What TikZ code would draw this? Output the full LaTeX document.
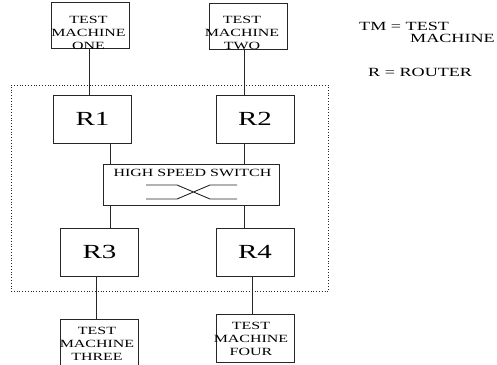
\documentclass[tikz,border=0pt]{standalone}
\usepackage{fontspec}
\setmainfont{Liberation Serif}[FakeStretch=1.45]
\usepackage{tikz}
\newcommand{\widthmachine}{78pt}
\newcommand{\heightmachine}{46pt}
\newcommand{\widthrouter}{78pt}
\newcommand{\heightrouter}{48pt}
\tikzset{
    common/.style={draw=black!85, line width=0.9pt, rectangle, inner sep=0pt},
    machine/.style={common, minimum width=\widthmachine, minimum height=\heightmachine},
    router/.style={common, minimum width=\widthrouter, minimum height=\heightrouter, font=\fontsize{20}{24}\selectfont},
    switchbox/.style={common, minimum width=176pt, minimum height=41pt},
    tmtext/.style={inner sep=0pt, align=center, anchor=north, font=\fontsize{11}{13}\selectfont},
    legendtext/.style={inner sep=0pt, align=left, anchor=north west, font=\fontsize{12.5}{12}\selectfont},
    link/.style={draw=black!85, line width=0.9pt},
    corebox/.style={draw=black!85, dotted, line width=0.8pt, inner sep=0pt}
}

\begin{document}
\begin{tikzpicture}[x=1pt, y=-1pt]
      \useasboundingbox (0,0) rectangle (497,364);
      \clip (0,0) rectangle (497,364);

      \node[corebox, minimum width=317.5pt, minimum height=206pt] (core) at (169.75,188) {};

      \path
          (0,0)
          +(90.5,25.5) node[machine] (tm1) {}
          +(248,26.5) node[machine] (tm2) {}
          +(99,342.5) node[machine] (tm3) {}
          +(255,338) node[machine, minimum height=48pt] (tm4) {};

      \path
          ([xshift=-2pt, yshift=-14pt]tm1.north) node[tmtext] (tm1-text) {TEST\\MACHINE\\ONE}
          ([xshift=-6pt, yshift=-13pt]tm2.north) node[tmtext] (tm2-text) {TEST\\MACHINE\\TWO}
          ([xshift=-2pt, yshift=-8pt]tm3.north) node[tmtext] (tm3-text) {TEST\\MACHINE\\THREE}
          ([xshift=-4pt, yshift=-8pt]tm4.north) node[tmtext] (tm4-text) {TEST\\MACHINE\\FOUR};

      \path
          (0,0)
          +(92.5,119) node[router] (r1) {R1}
          +(255,119) node[router] (r2) {R2}
          +(99.5,252) node[router] (r3) {R3}
          +(255,252) node[router] (r4) {R4};

      \path
          (0,0)
          +(191,184.5) node[switchbox] (sw) {};
      \node[tmtext] (sw-text) at ([xshift=1.5pt, yshift=-5pt]sw.north) {HIGH SPEED SWITCH};

      \draw[link, shift={(sw.center)}]
          (-45,0.5) -- (-14,0.5) -- (19,14.5) -- (46,14.5)
          (-45,14.5) -- (-14,14.5) -- (19,0.5) -- (46,0.5);

      \coordinate (col-a) at (89,0);
      \coordinate (col-b) at (244,0);
      \coordinate (col-c) at (110,0);
      \coordinate (col-d) at (96,0);
      \coordinate (col-e) at (252,0);

      \draw[link] (tm1.south -| col-a) -- (r1.north -| col-a);
      \draw[link] (tm2.south -| col-b) -- (r2.north -| col-b);
      \draw[link] (r1.south -| col-c) -- (sw.north -| col-c);
      \draw[link] (r2.south -| col-b) -- (sw.north -| col-b);
      \draw[link] (sw.south -| col-c) -- (r3.north -| col-c);
      \draw[link] (sw.south -| col-b) -- (r4.north -| col-b);
      \draw[link] (r3.south -| col-d) -- (tm3.north -| col-d);
      \draw[link] (r4.south -| col-e) -- (tm4.north -| col-e);

      \node[legendtext] (legend-tm) at (359,22) {TM = TEST\\\hspace*{51pt}MACHINE};
      \node[legendtext] (legend-r) at (368,68) {R = ROUTER};
\end{tikzpicture}
\end{document}
